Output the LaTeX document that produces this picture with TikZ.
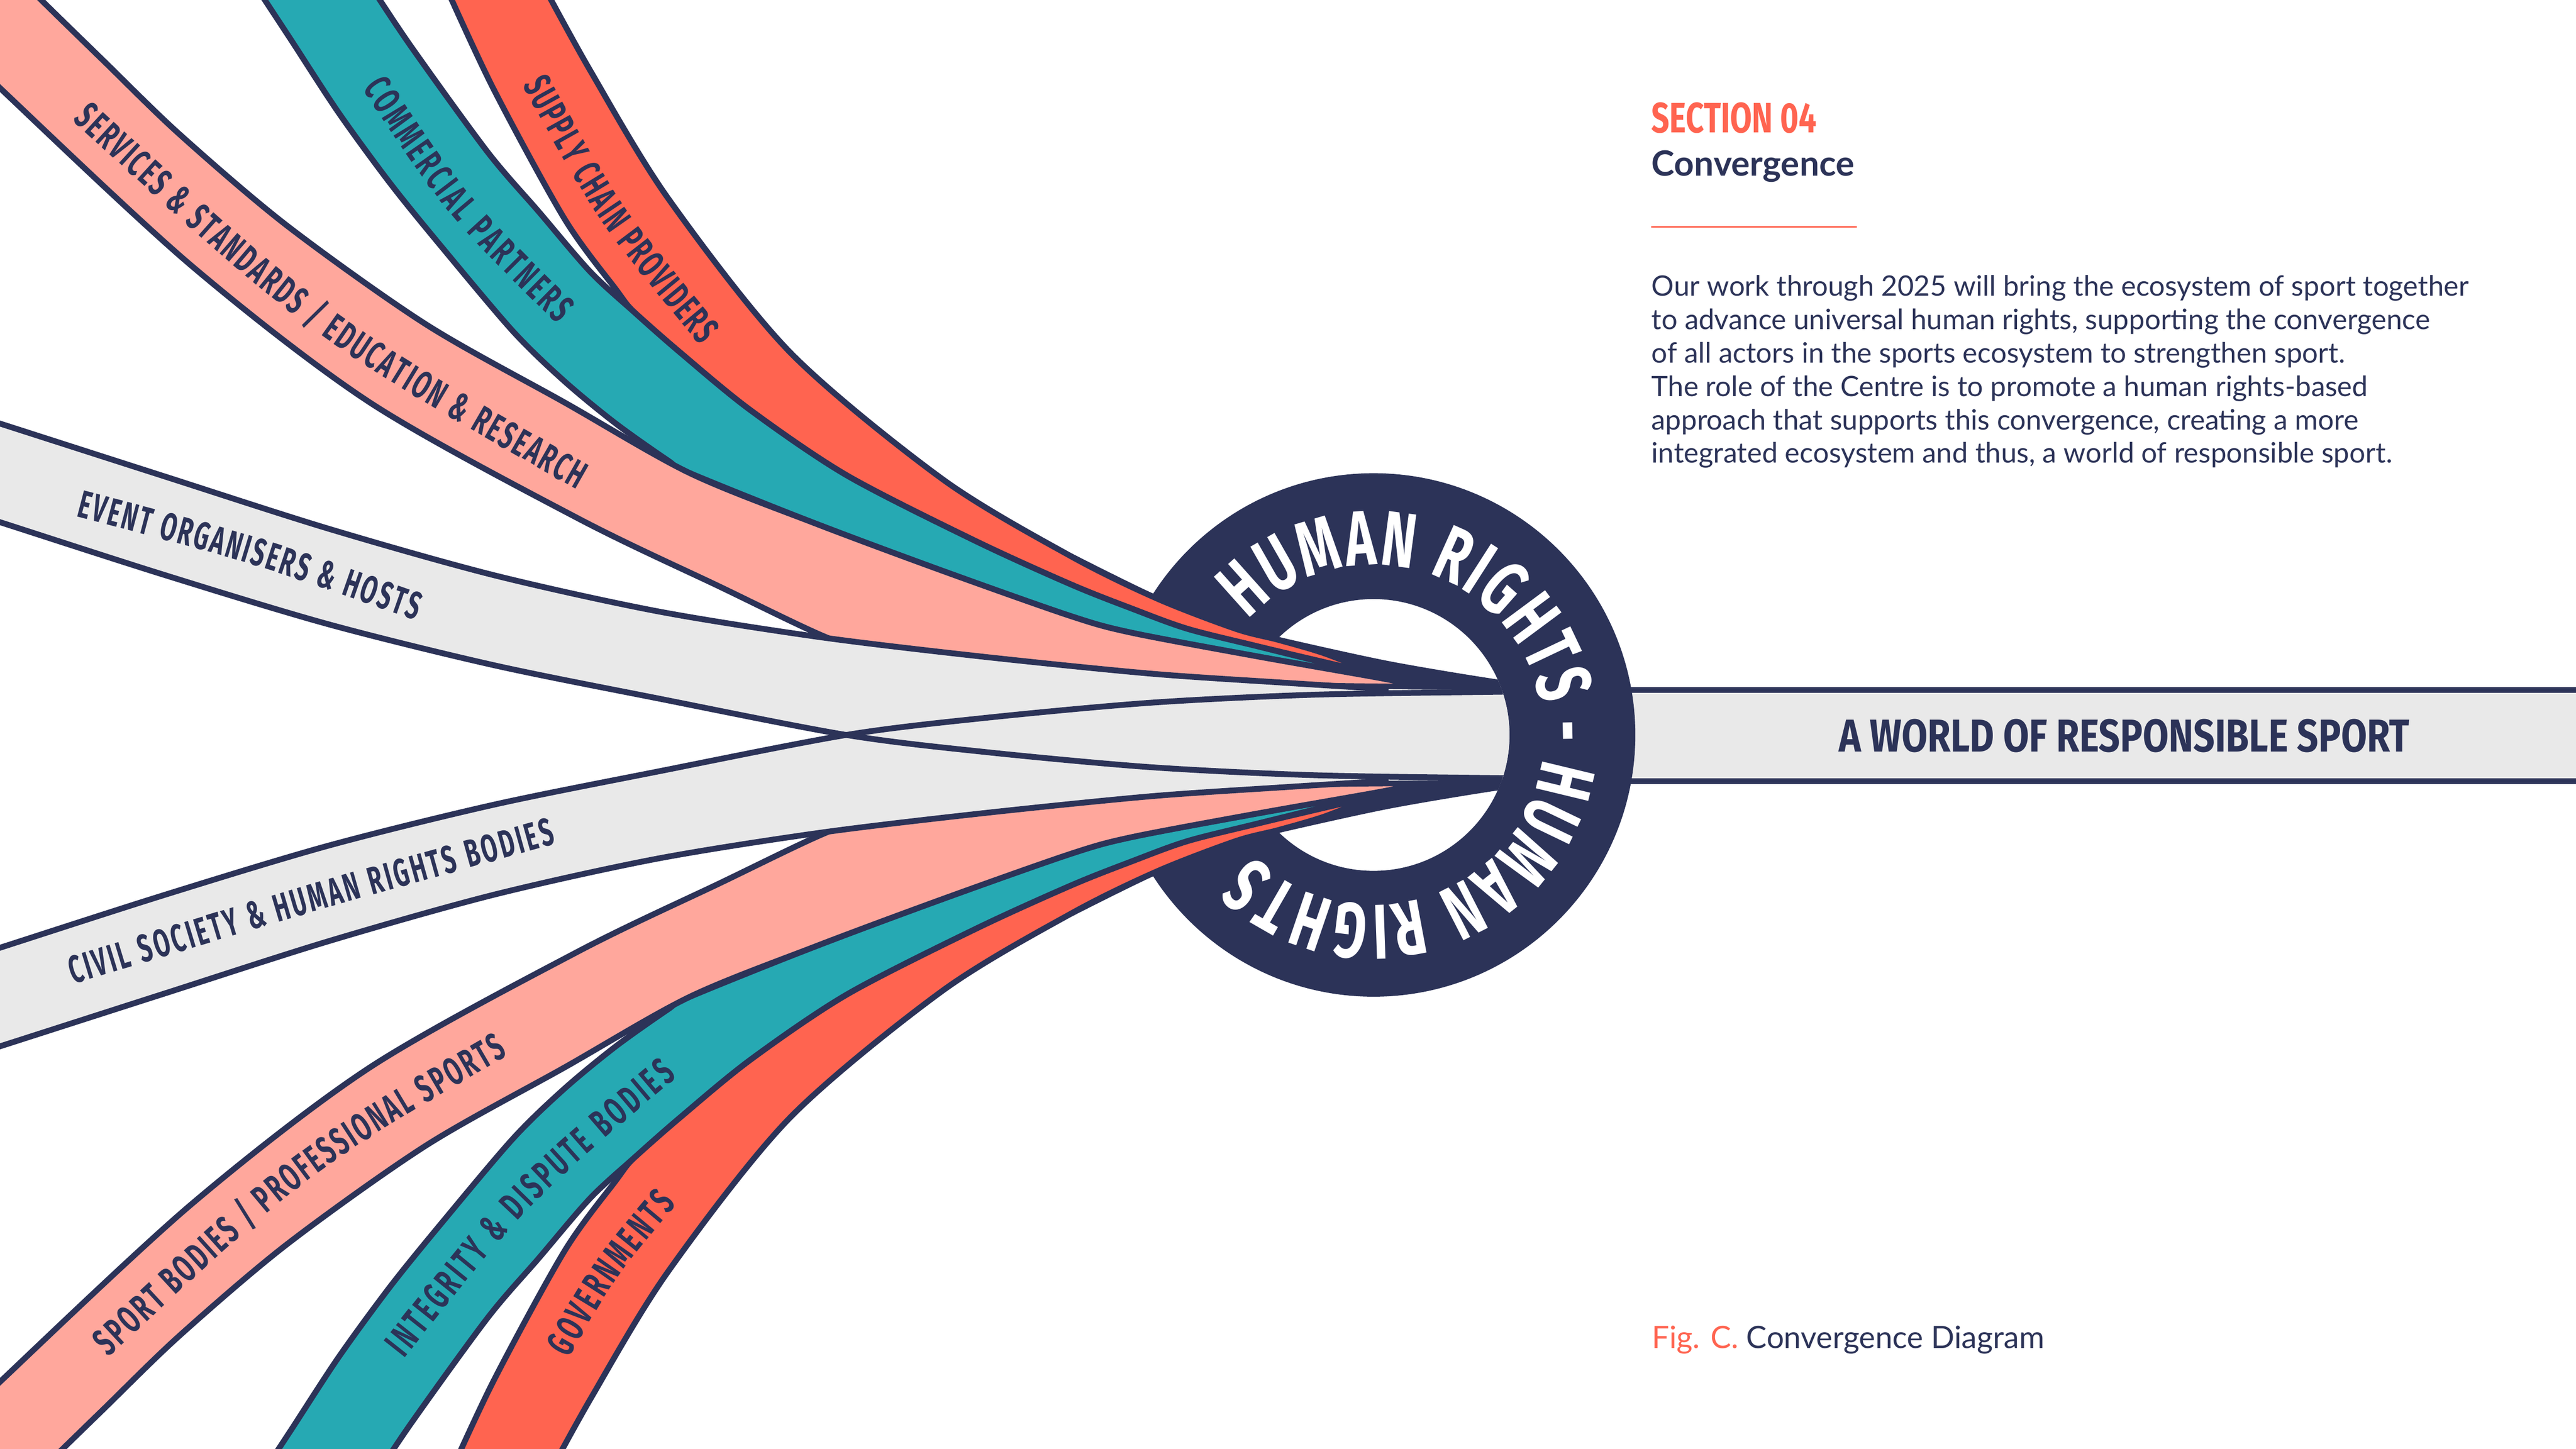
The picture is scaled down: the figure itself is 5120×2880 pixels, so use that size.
\documentclass[tikz,border=0pt]{standalone}
\usepackage{fontspec}
\usepackage{graphicx}
\usetikzlibrary{decorations.text}
\setmainfont{Lato}
\newfontfamily\condfont{Fira Sans}[FakeStretch=0.70]
\newfontfamily\labcond{Fira Sans}[FakeStretch=0.60]
\newfontfamily\ringcond{Fira Sans}[FakeStretch=0.66]
\definecolor{ribnavy}{HTML}{2C3358}
\definecolor{ribcoral}{HTML}{FF6450}
\definecolor{ribteal}{HTML}{26A9B3}
\definecolor{ribpink}{HTML}{FFA79C}
\definecolor{ribgray}{HTML}{E9E9E9}
\newcommand\labfont{\labcond\bfseries\fontsize{22pt}{22pt}\selectfont}
\newcommand\ringfont{\ringcond\bfseries\fontsize{44pt}{44pt}\selectfont}
\tikzset{
  ribline/.style={draw=ribnavy, line width=0.115cm, line join=round},
  bodytext/.style={inner sep=0pt, anchor=base west, text=ribnavy, font=\fontsize{15.9pt}{18pt}\selectfont},
  riblabel/.style={decorate, decoration={text along path, raise=-0.265cm, text align={fit to path}, text color=ribnavy, text={|\labfont|#1}}}
}
% coloured ribbons of one half (upper half coordinates)
\newcommand\drawColourRibbons{%
  \filldraw[fill=ribcoral, ribline]
    plot[smooth] coordinates{(1074,-40) (1173,140) (1327,393) (1570,700) (1874,953) (2129,1106) (2300,1190) (2456,1250) (2541,1272) (2630,1298) (2717,1332)}
    -- plot[smooth] coordinates{(2717,1336) (2500,1285) (2360,1250) (2250,1210) (2129,1162) (1938,1075) (1683,945) (1491,815) (1351,700) (1260,620) (1224,575) (1122,435) (980,175) (880,-40)}
    -- cycle;
  \filldraw[fill=ribteal, ribline]
    plot[smooth] coordinates{(729,-40) (816,91) (969,302) (1071,421) (1173,540) (1260,620) (1351,700) (1491,815) (1683,945) (1938,1075) (2129,1162) (2250,1210) (2360,1250) (2500,1285) (2727,1341)}
    -- plot[smooth] coordinates{(2727,1345) (2500,1305) (2250,1258) (2129,1225) (1874,1135) (1619,1040) (1370,940) (1327,915) (1224,842) (1122,758) (1020,659) (878,491) (776,365) (673,224) (577,77) (500,-40)}
    -- cycle;
  \filldraw[fill=ribpink, ribline]
    plot[smooth] coordinates{(-18,-100) (82,0) (204,119) (357,267) (571,449) (847,645) (1122,800) (1370,940) (1619,1040) (1874,1135) (2129,1225) (2250,1258) (2500,1305) (2727,1345) (2816,1362)}
    -- plot[smooth] coordinates{(2816,1365) (2600,1362) (2300,1345) (2000,1320) (1750,1290) (1650,1270) (1428,1165) (1148,1030) (735,800) (378,526) (0,175) (-100,75)}
    -- cycle;
}
\newcommand\fillGrayRibbon{%
  \fill[ribgray]
    plot[smooth] coordinates{(-60,823) (0,842) (327,947) (653,1051) (980,1143) (1306,1215) (1633,1267) (1959,1306) (2286,1339) (2550,1357) (2760,1370)}
    -- (3100,1373) -- (3100,1549)
    -- plot[smooth] coordinates{(2990,1547) (2612,1541) (2286,1525) (1959,1495) (1682,1461) (1306,1388) (980,1322) (653,1241) (327,1143) (0,1038) (-60,1019)}
    -- cycle;
}
\newcommand\strokeGrayRibbon{%
  \draw[ribline] plot[smooth] coordinates{(-60,823) (0,842) (327,947) (653,1051) (980,1143) (1306,1215) (1633,1267) (1959,1306) (2286,1339) (2550,1357) (2760,1370)};
  \draw[ribline] plot[smooth] coordinates{(-60,1019) (0,1038) (327,1143) (653,1241) (980,1322) (1306,1388) (1682,1461) (1959,1495) (2286,1525) (2612,1541) (2990,1547) (3100,1549)};
}
\begin{document}
\begin{tikzpicture}[x=0.01cm, y=-0.01cm]
  \useasboundingbox (0,0) rectangle (5120,2880);
  \fill[white] (0,0) rectangle (5120,2880);

  % outgoing band
  \fill[ribgray] (3000,1372) rectangle (5200,1553);
  \coordinate (bandTL) at (3000,1372);
  \coordinate (bandTR) at (5200,1372);
  \coordinate (bandBL) at (3000,1553);
  \coordinate (bandBR) at (5200,1553);
  \draw[ribline] (bandTL) -- (bandTR);
  \draw[ribline] (bandBL) -- (bandBR);
  \node[inner sep=0pt, anchor=base west, text=ribnavy] (world) at (3654,1495)
    {\resizebox{11.34cm}{0.65cm}{\condfont\bfseries A WORLD OF RESPONSIBLE SPORT}};

  % ring
  \coordinate (ringc) at (2730,1461);
  \fill[ribnavy, even odd rule] (ringc) circle[radius=5.2cm] (ringc) circle[radius=2.7cm];
  \path[decorate, decoration={text along path, text align={fit to path}, text color=white,
        text={|\ringfont|HUMAN RIGHTS - HUMAN RIGHTS}}]
    (2480.8,1232.6) arc[start angle=137.5, end angle=-135.2, radius=3.38cm];

  % ribbons, clipped at the right inner edge of the ring
  \begin{scope}
    \clip (-200,-200) -- (2730,-200) -- (2730,1191) arc[start angle=90, end angle=-90, radius=2.7cm] -- (2730,3100) -- (-200,3100) -- cycle;
    % navy core where everything converges
    \filldraw[fill=ribnavy, ribline]
      plot[smooth] coordinates{(2129,1106) (2300,1190) (2456,1250) (2541,1272) (2760,1320) (2980,1357) (3100,1370)}
      -- plot[smooth] coordinates{(3100,1552) (2980,1565) (2760,1602) (2541,1650) (2456,1672) (2300,1732) (2129,1816)}
      -- cycle;
    \drawColourRibbons
    \begin{scope}[shift={(0,2922)}, yscale=-1]
      \drawColourRibbons
    \end{scope}
    \fillGrayRibbon
    \begin{scope}[shift={(0,2922)}, yscale=-1]
      \fillGrayRibbon
    \end{scope}
    \strokeGrayRibbon
    \begin{scope}[shift={(0,2922)}, yscale=-1]
      \strokeGrayRibbon
    \end{scope}

    % ribbon labels
    \path[riblabel={SUPPLY CHAIN PROVIDERS}] (1062,157) .. controls (1212,429) .. (1412,669);
    \path[riblabel={COMMERCIAL PARTNERS}] (742,161) .. controls (910,413) .. (1126,625);
    \path[riblabel={SERVICES {\&} STANDARDS / EDUCATION {\&} RESEARCH}] (162,220) .. controls (630,649) .. (1159,950);
    \path[riblabel={EVENT ORGANISERS {\&} HOSTS}] (158,1001) .. controls (496,1089) .. (835,1208);
    \path[riblabel={CIVIL SOCIETY {\&} HUMAN RIGHTS BODIES}] (138,1931) .. controls (617,1785) .. (1097,1652);
    \path[riblabel={SPORT BODIES / PROFESSIONAL SPORTS}] (198,2678) .. controls (597,2307) .. (996,2075);
    \path[riblabel={INTEGRITY {\&} DISPUTE BODIES}] (783,2684) .. controls (1027,2375) .. (1328,2121);
    \path[riblabel={GOVERNMENTS}] (1107,2686) .. controls (1202,2522) .. (1324,2377);
  \end{scope}

  % text column
  \node[inner sep=0pt, anchor=base west, text=ribcoral] (section) at (3282,264)
    {\resizebox{3.28cm}{0.60cm}{\condfont\bfseries SECTION 04}};
  \node[inner sep=0pt, anchor=base west, text=ribnavy, font=\bfseries\fontsize{19.7pt}{21pt}\selectfont] (title) at (3282,350) {Convergence};
  \coordinate (ruleL) at (3282,451);
  \coordinate (ruleR) at (3690,451);
  \draw[ribcoral, line width=0.03cm] (ruleL) -- (ruleR);
  \node[bodytext] (b1) at (3282,588) {Our work through 2025 will bring the ecosystem of sport together};
  \node[bodytext] (b2) at (3282,654.5) {to advance universal human rights, supporting the convergence};
  \node[bodytext] (b3) at (3282,721) {of all actors in the sports ecosystem to strengthen sport.};
  \node[bodytext] (b4) at (3282,787.5) {The role of the Centre is to promote a human rights-based};
  \node[bodytext] (b5) at (3282,854) {approach that supports this convergence, creating a more};
  \node[bodytext] (b6) at (3282,920.5) {integrated ecosystem and thus, a world of responsible sport.};
  \node[inner sep=0pt, anchor=base west, text=ribnavy, font=\fontsize{17.4pt}{19pt}\selectfont] (caption) at (3283,2680)
    {{\color{ribcoral}Fig. C.} Convergence Diagram};
\end{tikzpicture}
\end{document}
